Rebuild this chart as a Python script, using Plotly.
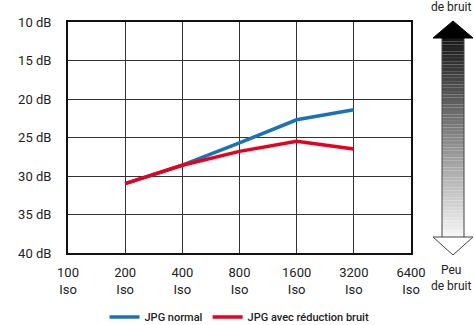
import plotly.graph_objects as go

iso = [100, 200, 400, 800, 1600, 3200, 6400]
iso_labels = ["100<br>Iso", "200<br>Iso", "400<br>Iso", "800<br>Iso", "1600<br>Iso", "3200<br>Iso", "6400<br>Iso"]
db_ticks = [10, 15, 20, 25, 30, 35, 40]

iso_data = [200, 400, 800, 1600, 3200]
jpg_normal = [31.0, 28.6, 25.7, 22.7, 21.4]
jpg_reduction = [31.0, 28.6, 26.8, 25.5, 26.5]

FW, FH = 474, 325
# plot area in pixels
L, R, T, B = 68, 411, 22, 253
W, H = R - L, B - T


def px(x):
    return (x - L) / W


def py(y):
    return (B - y) / H


fig = go.Figure()
fig.add_trace(go.Scatter(x=iso_data, y=jpg_normal, mode="lines", name="JPG normal",
                         line=dict(color="#1a73b8", width=3.5)))
fig.add_trace(go.Scatter(x=iso_data, y=jpg_reduction, mode="lines", name="JPG avec réduction bruit",
                         line=dict(color="#e8001c", width=3.5)))

# side arrow: black up head, gradient shaft, white down head
ax_c, sh_l, sh_r, hd_l, hd_r = 453, 442, 464, 433, 473
top_tip, top_base, bot_base, bot_tip = 21, 38, 237, 255

shapes = []
n = 60
for i in range(n):
    y0 = top_base + (bot_base - top_base) * i / n
    y1 = top_base + (bot_base - top_base) * (i + 1) / n
    g = int(25 + 220 * i / (n - 1))
    shapes.append(dict(type="rect", xref="paper", yref="paper",
                       x0=px(sh_l), x1=px(sh_r), y0=py(y1), y1=py(y0),
                       fillcolor=f"rgb({g},{g},{g})", line=dict(width=0), layer="above"))
shapes.append(dict(type="path", xref="paper", yref="paper",
                   path=(f"M {px(sh_l)} {py(top_base)} L {px(sh_l)} {py(bot_base)} "
                         f"M {px(sh_r)} {py(top_base)} L {px(sh_r)} {py(bot_base)}"),
                   line=dict(color="#444", width=1)))
shapes.append(dict(type="path", xref="paper", yref="paper",
                   path=f"M {px(hd_l)} {py(top_base)} L {px(ax_c)} {py(top_tip)} L {px(hd_r)} {py(top_base)} Z",
                   fillcolor="black", line=dict(color="black", width=1)))
shapes.append(dict(type="path", xref="paper", yref="paper",
                   path=f"M {px(hd_l)} {py(bot_base)} L {px(ax_c)} {py(bot_tip)} L {px(hd_r)} {py(bot_base)} Z",
                   fillcolor="white", line=dict(color="#444", width=1)))

annotations = [
    dict(text="de bruit", xref="paper", yref="paper", x=px(451), y=py(7),
         xanchor="center", yanchor="middle", showarrow=False,
         font=dict(size=12, color="#222")),
    dict(text="Peu<br>de bruit", xref="paper", yref="paper", x=px(451), y=py(278),
         xanchor="center", yanchor="middle", showarrow=False,
         font=dict(size=12, color="#222")),
]

fig.update_layout(
    width=FW, height=FH,
    margin=dict(l=L, r=FW - R, t=T, b=FH - B, autoexpand=False),
    paper_bgcolor="white", plot_bgcolor="white",
    font=dict(family="Roboto", size=13, color="#222"),
    showlegend=True,
    legend=dict(orientation="h", x=0.5, xanchor="center", yref="container",
                y=1 - 317 / FH, yanchor="middle",
                font=dict(size=11, color="#222", family="Roboto", weight=500),
                itemwidth=30, tracegroupgap=0),
    shapes=shapes,
    annotations=annotations,
    xaxis=dict(type="log", range=[2, 3.80618], tickvals=iso, ticktext=iso_labels,
               showgrid=True, gridcolor="#333", gridwidth=1, zeroline=False,
               showline=True, linecolor="#111", linewidth=2, mirror=True,
               ticks="", ticklabelstandoff=6, automargin=False),
    yaxis=dict(range=[40, 10], tickvals=db_ticks, ticktext=[f"{v} dB" for v in db_ticks],
               showgrid=True, gridcolor="#333", gridwidth=1, zeroline=False,
               showline=True, linecolor="#111", linewidth=2, mirror=True,
               ticks="", ticklabelstandoff=12, automargin=False),
)

# drop the page's default body margin so the figure fills the window
fig.write_html("out.html", config={"displayModeBar": False},
               post_script="document.body.style.margin='0';document.body.style.overflow='hidden';")
